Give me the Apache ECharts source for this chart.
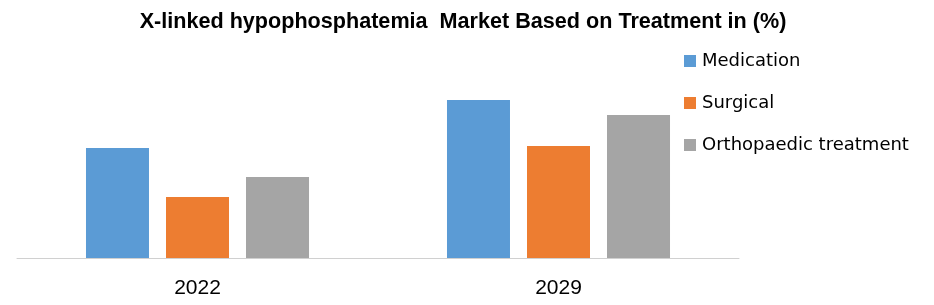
<!DOCTYPE html>
<html>
<head>
<meta charset="utf-8">
<script src="https://cdn.jsdelivr.net/npm/echarts@6/dist/echarts.min.js"></script>
<style>html,body{margin:0;padding:0;background:#fff}#c{width:934px;height:305px}</style>
</head>
<body>
<div id="c"></div>
<script>
const categories = ['2022', '2029'];
const medication = [110, 158];
const surgical = [61, 112];
const orthopaedic = [81, 143];
const seriesNames = ['Medication', 'Surgical', 'Orthopaedic treatment'];
const colors = ['#5b9bd5', '#ed7d31', '#a5a5a5'];

const chart = echarts.init(document.getElementById('c'));
chart.setOption({
  animation: false,
  color: colors,
  title: {
    text: 'X-linked hypophosphatemia  Market Based on Treatment in (%)',
    left: 458, top: 6, textAlign: 'center',
    textStyle: { fontFamily: 'Liberation Sans', fontWeight: 'bold', fontSize: 21.6, color: '#000' }
  },
  legend: {
    orient: 'vertical', left: 679, top: 47,
    itemWidth: 12, itemHeight: 12, itemGap: 24,
    icon: 'rect',
    textStyle: { fontFamily: 'DejaVu Sans', fontSize: 18, color: '#000', padding: [0, 0, 0, 1] },
    data: seriesNames
  },
  grid: { left: 17, width: 722, top: 58, bottom: 47 },
  xAxis: {
    type: 'category', data: categories,
    axisLine: { lineStyle: { color: '#d0d0d0', width: 1 } },
    axisTick: { show: false },
    axisLabel: { fontFamily: 'Liberation Sans', fontSize: 21, color: '#000', margin: 20 }
  },
  yAxis: { type: 'value', min: 0, max: 200, show: false, splitLine: { show: false } },
  series: [
    { name: seriesNames[0], type: 'bar', data: medication, barWidth: 63, barGap: '27%', barCategoryGap: '38%' },
    { name: seriesNames[1], type: 'bar', data: surgical, barWidth: 63, barGap: '27%' },
    { name: seriesNames[2], type: 'bar', data: orthopaedic, barWidth: 63, barGap: '27%' }
  ]
});
</script>
</body>
</html>
